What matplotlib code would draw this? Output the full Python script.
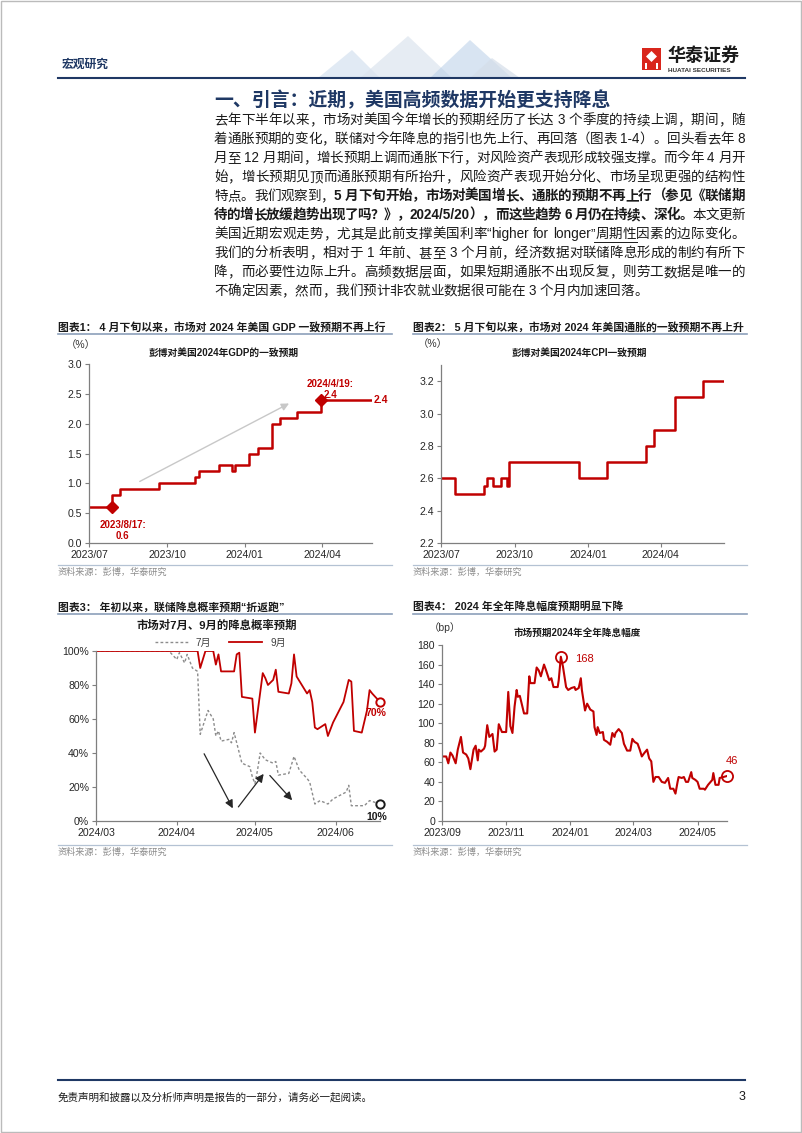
import matplotlib
matplotlib.use('Agg')
import matplotlib.pyplot as plt
import matplotlib.dates as mdates
from matplotlib.lines import Line2D
from matplotlib.patches import Rectangle, Polygon
import pandas as pd

plt.rcParams['font.family'] = ['Liberation Sans', 'Noto Sans CJK SC']
plt.rcParams['axes.unicode_minus'] = False

# ---------------- data ----------------
gdp_dates = ['2023-07-01', '2023-07-28', '2023-08-07', '2023-09-22', '2023-11-03', '2023-11-08',
             '2023-12-02', '2023-12-17', '2023-12-20', '2024-01-06', '2024-01-17', '2024-02-02',
             '2024-02-12', '2024-03-03', '2024-03-31', '2024-05-30']
gdp_vals = [0.6, 0.8, 0.9, 1.0, 1.1, 1.2, 1.3, 1.2, 1.3, 1.5, 1.6, 2.0, 2.1, 2.2, 2.4, 2.4]
gdp_marks = ['2023-07-28', '2024-03-31']
gdp_mark_vals = [0.6, 2.4]
gdp_mark_text = ['2023/8/17:\n0.6', '2024/4/19:\n2.4']
gdp_trend = [('2023-08-27', 1.01), ('2024-02-25', 2.36)]

cpi_dates = ['2023-07-01', '2023-07-19', '2023-08-24', '2023-08-28', '2023-09-04', '2023-09-14',
             '2023-09-21', '2023-09-24', '2023-12-21', '2024-01-25', '2024-03-14', '2024-03-24',
             '2024-04-19', '2024-05-24', '2024-06-19']
cpi_vals = [2.6, 2.5, 2.55, 2.6, 2.55, 2.6, 2.55, 2.7, 2.6, 2.7, 2.8, 2.9, 3.1, 3.2, 3.2]

jul_dates = ['2024-03-01', '2024-03-29', '2024-04-01', '2024-04-02', '2024-04-04', '2024-04-05',
             '2024-04-07', '2024-04-09', '2024-04-10', '2024-04-13', '2024-04-15', '2024-04-16',
             '2024-04-17', '2024-04-18', '2024-04-21', '2024-04-22', '2024-04-23', '2024-04-24',
             '2024-04-26', '2024-04-29', '2024-04-30', '2024-05-01', '2024-05-02', '2024-05-03',
             '2024-05-05', '2024-05-08', '2024-05-09', '2024-05-10', '2024-05-14', '2024-05-16',
             '2024-05-18', '2024-05-21', '2024-05-22', '2024-05-24', '2024-05-26', '2024-05-29',
             '2024-05-31', '2024-06-05', '2024-06-06', '2024-06-07', '2024-06-12', '2024-06-14',
             '2024-06-16', '2024-06-18']
jul_prob = [100, 100, 95, 99, 93, 98, 90, 88, 51, 65, 60, 50, 53, 47, 48, 46, 52, 46, 34, 32,
            26, 22, 30, 40, 36, 34, 35, 27, 28, 38, 30, 25, 23, 10, 12, 10, 13, 17, 21, 9,
            9, 12, 11, 10]
sep_dates = ['2024-03-01', '2024-04-09', '2024-04-10', '2024-04-12', '2024-04-15', '2024-04-16',
             '2024-04-17', '2024-04-18', '2024-04-23', '2024-04-24', '2024-04-25', '2024-04-26',
             '2024-04-30', '2024-05-01', '2024-05-04', '2024-05-05', '2024-05-06', '2024-05-08',
             '2024-05-09', '2024-05-10', '2024-05-14', '2024-05-15', '2024-05-16', '2024-05-17',
             '2024-05-19', '2024-05-21', '2024-05-22', '2024-05-23', '2024-05-24', '2024-05-25',
             '2024-05-28', '2024-05-29', '2024-05-31', '2024-06-04', '2024-06-06', '2024-06-07',
             '2024-06-08', '2024-06-11', '2024-06-13', '2024-06-14', '2024-06-15', '2024-06-18']
sep_prob = [100, 100, 90, 100, 100, 92, 98, 88, 88, 98, 99, 73, 72, 52, 87, 84, 80, 83, 89, 76,
            75, 81, 98, 85, 80, 75, 77, 70, 55, 54, 57, 50, 58, 70, 83, 82, 53, 52, 65, 77,
            75, 70]
prob_arrows = [(('2024-04-11', 41), ('2024-04-23', 6)),
               (('2024-04-24', 7), ('2024-05-05', 29)),
               (('2024-05-06', 28), ('2024-05-16', 11))]

cut_dates = ['2023-09-01', '2023-09-05', '2023-09-07', '2023-09-09', '2023-09-11', '2023-09-14',
             '2023-09-16', '2023-09-19', '2023-09-21', '2023-09-24', '2023-09-26', '2023-09-28',
             '2023-10-01', '2023-10-03', '2023-10-05', '2023-10-06', '2023-10-08', '2023-10-11',
             '2023-10-12', '2023-10-14', '2023-10-16', '2023-10-19', '2023-10-21', '2023-10-23',
             '2023-10-25', '2023-10-28', '2023-11-01', '2023-11-03', '2023-11-05', '2023-11-07',
             '2023-11-09', '2023-11-11', '2023-11-12', '2023-11-14', '2023-11-16', '2023-11-18',
             '2023-11-21', '2023-11-23', '2023-11-24', '2023-11-28', '2023-11-30', '2023-12-02',
             '2023-12-04', '2023-12-07', '2023-12-09', '2023-12-12', '2023-12-14', '2023-12-16',
             '2023-12-20', '2023-12-21', '2023-12-23', '2023-12-25', '2023-12-28', '2023-12-30',
             '2024-01-02', '2024-01-05', '2024-01-06', '2024-01-09', '2024-01-11', '2024-01-12',
             '2024-01-15', '2024-01-17', '2024-01-20', '2024-01-23', '2024-01-24', '2024-01-26',
             '2024-01-27', '2024-01-29', '2024-02-01', '2024-02-02', '2024-02-05', '2024-02-08',
             '2024-02-10', '2024-02-12', '2024-02-13', '2024-02-16', '2024-02-19', '2024-02-21',
             '2024-02-24', '2024-02-27', '2024-02-29', '2024-03-02', '2024-03-05', '2024-03-07',
             '2024-03-09', '2024-03-11', '2024-03-14', '2024-03-16', '2024-03-18', '2024-03-20',
             '2024-03-22', '2024-03-25', '2024-03-28', '2024-03-31', '2024-04-03', '2024-04-05',
             '2024-04-08', '2024-04-10', '2024-04-12', '2024-04-13', '2024-04-16', '2024-04-18',
             '2024-04-20', '2024-04-22', '2024-04-25', '2024-04-26', '2024-04-29', '2024-05-01',
             '2024-05-03', '2024-05-07', '2024-05-08', '2024-05-11', '2024-05-15', '2024-05-16',
             '2024-05-18', '2024-05-21', '2024-05-22', '2024-05-29']
cut_bp = [66, 66, 59, 70, 67, 59, 73, 86, 70, 68, 64, 53, 73, 77, 62, 73, 71, 74, 77, 98,
          86, 89, 71, 73, 99, 91, 91, 132, 97, 90, 117, 134, 127, 128, 119, 110, 110, 148, 141, 141,
          157, 154, 148, 160, 154, 144, 146, 137, 137, 144, 168, 158, 137, 134, 136, 137, 134, 136, 146, 134,
          113, 120, 114, 112, 96, 88, 96, 90, 91, 83, 81, 78, 90, 86, 90, 94, 90, 79, 72, 72,
          84, 81, 79, 73, 66, 69, 73, 64, 61, 40, 45, 45, 40, 39, 44, 33, 33, 28, 40, 45,
          44, 45, 40, 40, 50, 44, 42, 40, 33, 33, 32, 37, 42, 49, 37, 37, 44, 46]

page_title = '一、引言：近期，美国高频数据开始更支持降息'
# style: 0 normal, 1 bold, 2 underlined
body_lines = [
    [('去年下半年以来，市场对美国今年增长的预期经历了长达 3 个季度的持续上调，期间，随', 0)],
    [('着通胀预期的变化，联储对今年降息的指引也先上行、再回落（图表 1-4）。回头看去年 8', 0)],
    [('月至 12 月期间，增长预期上调而通胀下行，对风险资产表现形成较强支撑。而今年 4 月开', 0)],
    [('始，增长预期见顶而通胀预期有所抬升，风险资产表现开始分化、市场呈现更强的结构性', 0)],
    [('特点。我们观察到，', 0), ('5 月下旬开始，市场对美国增长、通胀的预期不再上行（参见《联储期', 1)],
    [('待的增长放缓趋势出现了吗？》，2024/5/20），而这些趋势 6 月仍在持续、深化。', 1), ('本文更新', 0)],
    [('美国近期宏观走势，尤其是此前支撑美国利率“higher for longer”', 0), ('周期性', 2), ('因素的边际变化。', 0)],
    [('我们的分析表明，相对于 1 年前、甚至 3 个月前，经济数据对联储降息形成的制约有所下', 0)],
    [('降，而必要性边际上升。高频数据层面，如果短期通胀不出现反复，则劳工数据是唯一的', 0)],
    [('不确定因素，然而，我们预计非农就业数据很可能在 3 个月内加速回落。', 0)],
]
chart_heads = ['图表1： 4 月下旬以来，市场对 2024 年美国 GDP 一致预期不再上行',
               '图表2： 5 月下旬以来，市场对 2024 年美国通胀的一致预期不再上升',
               '图表3： 年初以来，联储降息概率预期“折返跑”',
               '图表4： 2024 年全年降息幅度预期明显下降']
chart_titles = ['彭博对美国2024年GDP的一致预期', '彭博对美国2024年CPI一致预期',
                '市场对7月、9月的降息概率预期', '市场预期2024年全年降息幅度']
source_text = '资料来源：彭博，华泰研究'

# ---------------- page ----------------
W, H = 802, 1133
RED = '#C00000'
NAVY = '#1F3864'
fig = plt.figure(figsize=(W / 100, H / 100), dpi=100)


def ptext(x, y, s, **kw):
    return fig.text(x / W, 1 - y / H, s, **kw)


def hline(x0, x1, y, color, lw):
    fig.add_artist(Line2D([x0 / W, x1 / W], [1 - y / H, 1 - y / H], transform=fig.transFigure,
                          color=color, lw=lw))


def ax_at(x0, y0, x1, y1):
    return fig.add_axes([x0 / W, 1 - y1 / H, (x1 - x0) / W, (y1 - y0) / H])


def poly(pts, **kw):
    fig.add_artist(Polygon([(x / W, 1 - y / H) for x, y in pts], closed=True,
                           transform=fig.transFigure, **kw))


def style(ax):
    for s in ['top', 'right']:
        ax.spines[s].set_visible(False)
    for s in ['left', 'bottom']:
        ax.spines[s].set_color('#7f7f7f')
        ax.spines[s].set_linewidth(0.9)
    ax.tick_params(axis='both', labelsize=7.6, colors='#7f7f7f', labelcolor='#262626',
                   length=3, width=0.8, direction='out', pad=2)
    ax.patch.set_alpha(0)


# border
fig.add_artist(Rectangle((0.001, 0.001), 0.998, 0.998, transform=fig.transFigure,
                         fill=False, edgecolor='#BBBBBB', lw=1))

# header decoration (light mountains)
poly([(318, 78), (352, 50), (380, 78)], color='#C5D6EA', alpha=0.5, lw=0)
poly([(360, 78), (408, 36), (452, 78)], color='#DCE4EE', alpha=0.7, lw=0)
poly([(430, 78), (470, 40), (512, 78)], color='#B3CBE6', alpha=0.5, lw=0)
poly([(470, 78), (492, 58), (520, 78)], color='#D5DEE9', alpha=0.7, lw=0)

ptext(62, 65, '宏观研究', fontsize=8.5, fontweight='bold', color=NAVY, va='center')
hline(58, 745, 78, NAVY, 1.5)
fig.add_artist(Rectangle((642 / W, 1 - 70 / H), 19 / W, 22 / H, transform=fig.transFigure,
                         color='#D9261C', lw=0))
poly([(651.5, 51), (657, 56.5), (651.5, 62), (646, 56.5)], color='white', lw=0)
fig.add_artist(Rectangle((645 / W, 1 - 69 / H), 2 / W, 6 / H, transform=fig.transFigure,
                         color='white', lw=0))
fig.add_artist(Rectangle((656 / W, 1 - 69 / H), 2 / W, 6 / H, transform=fig.transFigure,
                         color='white', lw=0))
ptext(667, 56, '华泰证券', fontsize=13, fontweight='bold', color='#1a1a1a', va='center')
ptext(668, 70, 'HUATAI SECURITIES', fontsize=4.6, fontweight='bold', color='#333333', va='center')

# title and body
ptext(214, 100, page_title, fontsize=13.6, fontweight='bold', color=NAVY, va='center')

renderer = fig.canvas.get_renderer()
_wcache = {}


def text_w(s, **kw):
    key = (s, kw.get('fontweight'), kw.get('fontsize'))
    if key not in _wcache:
        t = fig.text(0, 0, s, **kw)
        _wcache[key] = t.get_window_extent(renderer).width
        t.remove()
    return _wcache[key]


def body_line(line, x0, y, right, justify):
    chunks = []
    seg_start = 0.0
    for seg, st in line:
        kw = dict(fontsize=9.75, color='#1a1a1a', va='center', ha='left',
                  fontweight='bold' if st == 1 else 'normal')
        wz = text_w('中', **kw)
        i = 0
        while i < len(seg):
            if seg[i] == ' ':
                i += 1
                continue
            j = i + 1
            if ord(seg[i]) < 128:
                while j < len(seg) and ord(seg[j]) < 128 and seg[j] != ' ':
                    j += 1
            tok, prefix = seg[i:j], seg[:i]
            wt = text_w(tok, **kw)
            if prefix:
                nat = text_w(prefix + '中', **kw) - wz
                off = text_w(prefix + tok, **kw) - nat - wt
            else:
                nat, off = 0.0, 0.0
            chunks.append((tok, kw, st, seg_start + nat + off, wt))
            i = j
        seg_start += text_w(seg + '中', **kw) - wz
    n = len(chunks)
    nat_right = chunks[-1][3] + chunks[-1][4]
    extra = (right - x0 - nat_right) / (n - 1) if justify and n > 1 else 0.0
    ul = []
    for k, (tok, kw, st, pos, wt) in enumerate(chunks):
        x = x0 + pos + k * extra
        ptext(x, y, tok, **kw)
        if st == 2:
            ul += [x, x + wt]
    if ul:
        hline(min(ul) - 1, max(ul) + 1, y + 8, '#1a1a1a', 0.7)


for i, line in enumerate(body_lines):
    body_line(line, 214, 120 + 19.0 * i, 745, i < len(body_lines) - 1)

# chart frames (heads, underlines, sources)
for k, (hx, hy, sy) in enumerate([(58, 327, 572), (413, 327, 572), (58, 607, 852), (413, 607, 852)]):
    ptext(hx, hy, chart_heads[k], fontsize=7.8, fontweight='bold', color='#1a1a1a', va='center')
    hline(hx, hx + 334, hy + 7, '#8CA0BA', 1.2)
    hline(hx, hx + 334, sy - 7, '#B4C2D3', 0.9)
    ptext(hx, sy, source_text, fontsize=6.6, color='#8C8C8C', va='center')

# ---------------- chart 1: GDP ----------------
ax1 = ax_at(89, 364, 372, 543)
style(ax1)
ax1.plot(pd.to_datetime(gdp_dates), gdp_vals, drawstyle='steps-post', color=RED, lw=1.8)
ax1.set_xlim(pd.Timestamp('2023-07-01'), pd.Timestamp(gdp_dates[-1]))
ax1.set_ylim(0, 3.0)
ax1.set_yticks([0, 0.5, 1.0, 1.5, 2.0, 2.5, 3.0])
ax1.yaxis.set_major_formatter(matplotlib.ticker.FormatStrFormatter('%.1f'))
ax1.xaxis.set_major_locator(mdates.MonthLocator(bymonth=(1, 4, 7, 10)))
ax1.xaxis.set_major_formatter(mdates.DateFormatter('%Y/%m'))
ax1.plot(pd.to_datetime(gdp_marks), gdp_mark_vals, ls='none', marker='D', ms=6, color=RED)
for dt, v, txt, off in zip(gdp_marks, gdp_mark_vals, gdp_mark_text, [(11, -23), (9, 10)]):
    ax1.annotate(txt, xy=(mdates.date2num(pd.Timestamp(dt)), v), xytext=off,
                 textcoords='offset pixels', ha='center', va='center', fontsize=7,
                 fontweight='bold', color=RED, linespacing=1.15)
ax1.annotate('2.4', xy=(mdates.date2num(pd.Timestamp(gdp_dates[-1])), gdp_vals[-1]),
             xytext=(2, 0), textcoords='offset pixels', ha='left', va='center',
             fontsize=7.5, fontweight='bold', color=RED, annotation_clip=False)
ax1.annotate('', xy=(mdates.date2num(pd.Timestamp(gdp_trend[1][0])), gdp_trend[1][1]),
             xytext=(mdates.date2num(pd.Timestamp(gdp_trend[0][0])), gdp_trend[0][1]),
             arrowprops=dict(arrowstyle='-|>', color='#C8C8C8', lw=1.0, mutation_scale=11))
ptext(81, 345, '（%）', fontsize=7.5, color='#333333', ha='center', va='center')
ptext(224, 353, chart_titles[0], fontsize=7, fontweight='bold', color='#1a1a1a', ha='center', va='center')

# ---------------- chart 2: CPI ----------------
ax2 = ax_at(441, 365, 724, 543)
style(ax2)
ax2.plot(pd.to_datetime(cpi_dates), cpi_vals, drawstyle='steps-post', color=RED, lw=1.8)
ax2.set_xlim(pd.Timestamp('2023-07-01'), pd.Timestamp(cpi_dates[-1]))
ax2.set_ylim(2.2, 3.3)
ax2.set_yticks([2.2, 2.4, 2.6, 2.8, 3.0, 3.2])
ax2.yaxis.set_major_formatter(matplotlib.ticker.FormatStrFormatter('%.1f'))
ax2.xaxis.set_major_locator(mdates.MonthLocator(bymonth=(1, 4, 7, 10)))
ax2.xaxis.set_major_formatter(mdates.DateFormatter('%Y/%m'))
ptext(433, 344, '（%）', fontsize=7.5, color='#333333', ha='center', va='center')
ptext(579, 353, chart_titles[1], fontsize=7, fontweight='bold', color='#1a1a1a', ha='center', va='center')

# ---------------- chart 3: probabilities ----------------
ax3 = ax_at(96, 651, 380, 821)
style(ax3)
ax3.plot(pd.to_datetime(jul_dates), jul_prob, color='#8C8C8C', lw=1.0, ls=(0, (2, 1.6)), label='7月')
ax3.plot(pd.to_datetime(sep_dates), sep_prob, color=RED, lw=1.3, label='9月')
ax3.set_xlim(pd.Timestamp('2024-03-01'), pd.Timestamp(sep_dates[-1]))
ax3.set_ylim(0, 100)
ax3.set_yticks([0, 20, 40, 60, 80, 100])
ax3.set_yticklabels(['%d%%' % v for v in [0, 20, 40, 60, 80, 100]])
ax3.xaxis.set_major_locator(mdates.MonthLocator())
ax3.xaxis.set_major_formatter(mdates.DateFormatter('%Y/%m'))
ax3.legend(loc='center', bbox_to_anchor=(0.437, 1.05), ncol=2, frameon=False, fontsize=7.2,
           handlelength=3.3, columnspacing=1.8, handletextpad=0.8, labelcolor='#404040')
ax3.plot(pd.to_datetime([sep_dates[-1]]), [sep_prob[-1]], ls='none', marker='o', ms=6,
         mfc='white', mec=RED, mew=1.4, clip_on=False)
ax3.plot(pd.to_datetime([jul_dates[-1]]), [jul_prob[-1]], ls='none', marker='o', ms=6,
         mfc='white', mec='#1a1a1a', mew=1.4, clip_on=False)
ax3.annotate('%d%%' % sep_prob[-1], xy=(mdates.date2num(pd.Timestamp(sep_dates[-1])), sep_prob[-1]),
             xytext=(-4, -11), textcoords='offset pixels', ha='center', va='center',
             fontsize=7.5, fontweight='bold', color=RED, annotation_clip=False)
ax3.annotate('%d%%' % jul_prob[-1], xy=(mdates.date2num(pd.Timestamp(jul_dates[-1])), jul_prob[-1]),
             xytext=(-3, -13), textcoords='offset pixels', ha='center', va='center',
             fontsize=7.5, fontweight='bold', color='#1a1a1a', annotation_clip=False)
for (d0, v0), (d1, v1) in prob_arrows:
    ax3.annotate('', xy=(mdates.date2num(pd.Timestamp(d1)), v1),
                 xytext=(mdates.date2num(pd.Timestamp(d0)), v0),
                 arrowprops=dict(arrowstyle='-|>', color='#262626', lw=0.9, mutation_scale=12))
ptext(217, 625, chart_titles[2], fontsize=8.2, fontweight='bold', color='#1a1a1a', ha='center', va='center')

# ---------------- chart 4: cuts ----------------
ax4 = ax_at(442, 645, 727, 821)
style(ax4)
cd = pd.to_datetime(cut_dates)
ax4.plot(cd, cut_bp, color=RED, lw=1.5)
ax4.set_xlim(pd.Timestamp('2023-09-01'), cd[-1])
ax4.set_ylim(0, 180)
ax4.set_yticks(range(0, 181, 20))
ax4.xaxis.set_major_locator(mdates.MonthLocator(bymonth=(1, 3, 5, 9, 11)))
ax4.xaxis.set_major_formatter(mdates.DateFormatter('%Y/%m'))
pk = cut_bp.index(max(cut_bp))
for idx, off in [(pk, (14, -2)), (len(cut_bp) - 1, (5, 15))]:
    ax4.plot([cd[idx]], [cut_bp[idx]], ls='none', marker='o', ms=8, mfc='none', mec=RED,
             mew=1.3, clip_on=False)
    ax4.annotate(str(cut_bp[idx]), xy=(mdates.date2num(cd[idx]), cut_bp[idx]), xytext=off,
                 textcoords='offset pixels', ha='left' if idx == pk else 'center', va='center',
                 fontsize=8, color=RED, annotation_clip=False)
ptext(445, 628, '（bp）', fontsize=7.5, color='#333333', ha='center', va='center')
ptext(577, 633, chart_titles[3], fontsize=6.9, fontweight='bold', color='#1a1a1a', ha='center', va='center')

# footer
hline(58, 745, 1080, NAVY, 1.5)
ptext(58, 1097, '免责声明和披露以及分析师声明是报告的一部分，请务必一起阅读。', fontsize=7.6,
      color='#1a1a1a', va='center')
ptext(745, 1097, '3', fontsize=9, color='#1a1a1a', ha='right', va='center')

fig.savefig('out.png', dpi=100)
